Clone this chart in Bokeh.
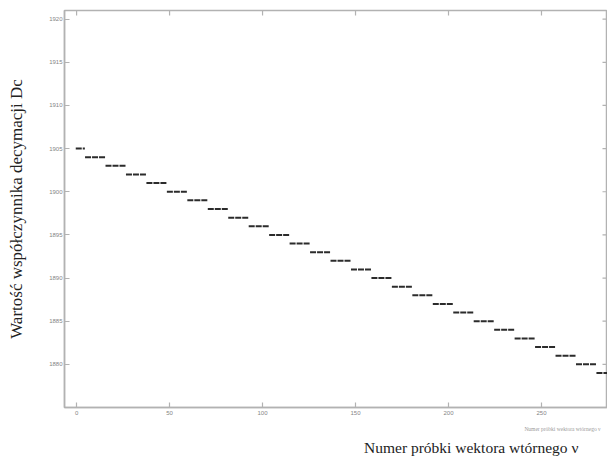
from bokeh.plotting import figure
from bokeh.models import Range1d, Title, FixedTicker
from bokeh.embed import file_html
from bokeh.resources import INLINE

# Decimation factor Dc held at each level: value and first/last sample index
levels = [1905, 1904, 1903, 1902, 1901, 1900, 1899, 1898, 1897, 1896, 1895, 1894,
          1893, 1892, 1891, 1890, 1889, 1888, 1887, 1886, 1885, 1884, 1883, 1882,
          1881, 1880, 1879]
first_sample = [0, 5, 16, 27, 38, 49, 60, 71, 82, 93, 104, 115, 126, 137, 148, 159,
                170, 181, 192, 203, 214, 225, 236, 247, 258, 269, 280]
last_sample = [4, 15, 26, 37, 48, 59, 70, 81, 92, 103, 114, 125, 136, 147, 158, 169,
               180, 191, 202, 213, 224, 235, 246, 257, 268, 279, 285]

x_ticks = [0, 50, 100, 150, 200, 250]
y_ticks = [1880, 1885, 1890, 1895, 1900, 1905, 1910, 1915, 1920]

x_title = "Numer próbki wektora wtórnego ν"
y_title = "Wartość współczynnika decymacji Dc"

AXIS_GREY = "#b2b2b2"
SERIF = "Liberation Serif"

X_MIN, X_MAX = -6.5, 285.5
Y_MIN, Y_MAX = 1875, 1921

p = figure(width=607, height=463,
           x_range=Range1d(X_MIN, X_MAX), y_range=Range1d(Y_MIN, Y_MAX),
           output_backend="svg", toolbar_location=None,
           min_border_left=64, min_border_right=0, min_border_top=10,
           min_border_bottom=56)

p.xgrid.visible = False
p.ygrid.visible = False
p.background_fill_color = "white"
p.border_fill_color = "white"
p.outline_line_color = AXIS_GREY
p.outline_line_width = 1.5

# step levels, one horizontal run per value
x0 = [s - 0.45 for s in first_sample]
x1 = [e + 0.45 for e in last_sample]
p.segment(x0=x0, y0=levels, x1=x1, y1=levels,
          line_color="#2b2b2b", line_width=2.0, line_dash="6 1")

for ax in (p.xaxis[0], p.yaxis[0]):
    ax.axis_line_color = AXIS_GREY
    ax.axis_line_width = 1.5
    ax.major_tick_line_color = AXIS_GREY
    ax.major_tick_line_width = 1.2
    ax.major_tick_in = 5
    ax.major_tick_out = 0
    ax.minor_tick_line_color = None
    ax.major_label_text_color = "#858585"
    ax.major_label_text_font = "Arial"
    ax.major_label_text_font_size = "6px"

p.xaxis[0].ticker = FixedTicker(ticks=x_ticks)
p.yaxis[0].ticker = FixedTicker(ticks=y_ticks)
p.xaxis[0].major_label_standoff = 3
p.yaxis[0].major_label_standoff = 2

p.yaxis[0].axis_label = y_title
p.yaxis[0].axis_label_text_font = SERIF
p.yaxis[0].axis_label_text_font_style = "normal"
p.yaxis[0].axis_label_text_font_size = "17px"
p.yaxis[0].axis_label_text_color = "#222222"
p.yaxis[0].axis_label_standoff = 20

# mirrored inner ticks on the top and right edges of the box
top_len = (Y_MAX - Y_MIN) / 397 * 5
right_len = (X_MAX - X_MIN) / 543 * 5
p.segment(x0=x_ticks, x1=x_ticks, y0=[Y_MAX] * len(x_ticks),
          y1=[Y_MAX - top_len] * len(x_ticks), line_color=AXIS_GREY, line_width=1.2)
p.segment(x0=[X_MAX] * len(y_ticks), x1=[X_MAX - right_len] * len(y_ticks),
          y0=y_ticks, y1=y_ticks, line_color=AXIS_GREY, line_width=1.2)

# faint duplicate caption just under the axis, then the main caption
p.add_layout(Title(text=x_title, align="right", offset=7,
                   text_font=SERIF, text_font_size="5.5px", text_font_style="normal",
                   text_color="#9a9a9a", standoff=13), "below")
p.add_layout(Title(text=x_title, align="right", offset=29,
                   text_font=SERIF, text_font_size="15.5px", text_font_style="normal",
                   text_color="#222222", standoff=-4), "below")

open("out.html", "w").write(file_html(p, INLINE))
